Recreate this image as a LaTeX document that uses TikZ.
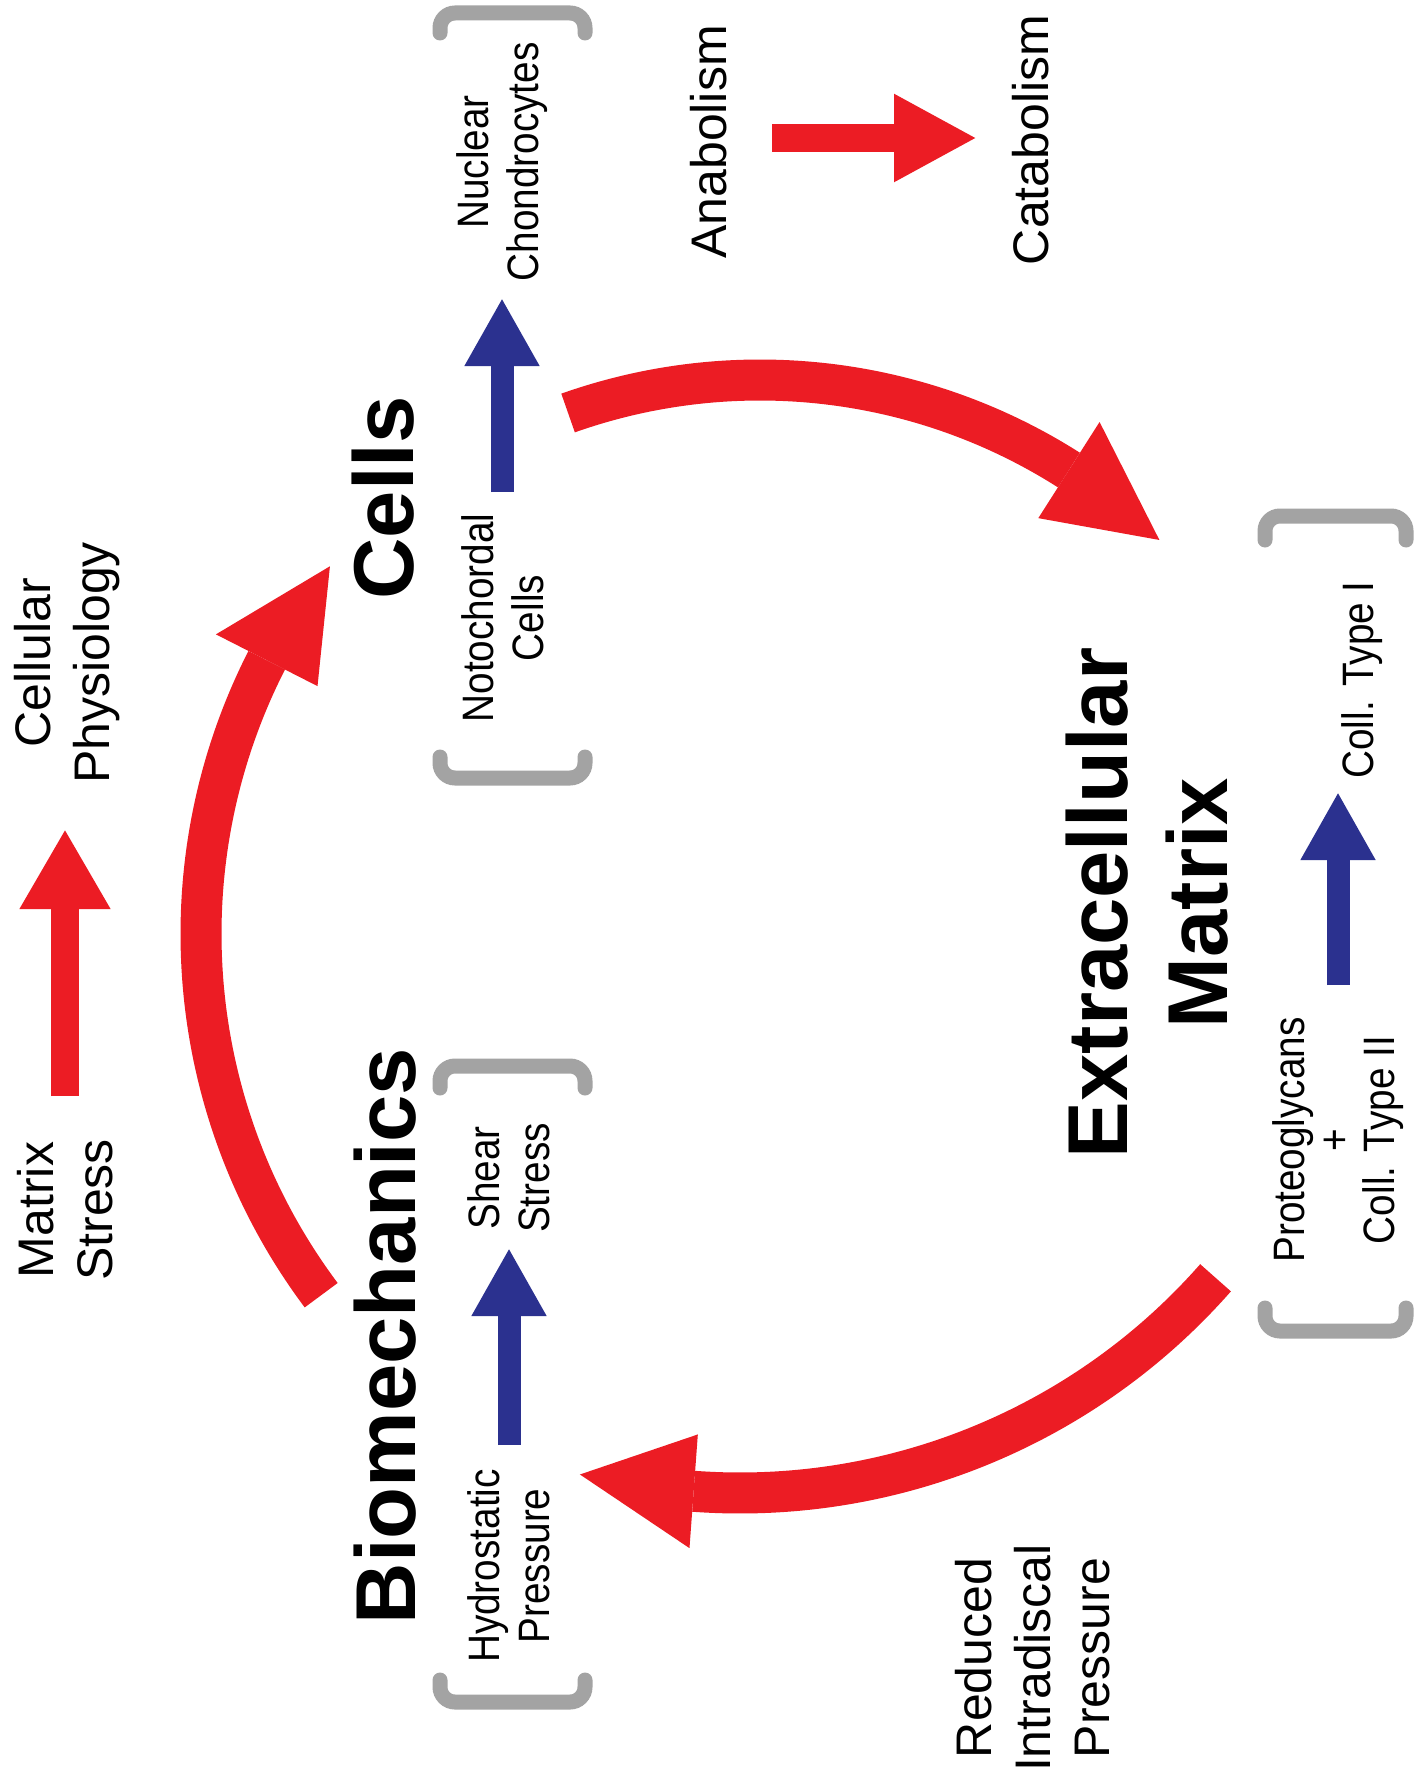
\documentclass[tikz,border=0pt]{standalone}
\usepackage{fontspec}
\setmainfont{Liberation Sans}
\newfontfamily\narrowfont[FakeStretch=0.88]{Liberation Sans}
\usetikzlibrary{calc,arrows.meta}
\definecolor{arred}{RGB}{236,28,36}
\definecolor{arblue}{RGB}{43,49,143}
\definecolor{brgray}{RGB}{163,163,163}
\tikzset{
  lab/.style={rotate=90, align=center, inner sep=0pt, font=\fontsize{50}{59}\selectfont},
  headlab/.style={rotate=90, align=center, inner sep=0pt, font=\fontsize{85}{100}\selectfont\bfseries},
  small/.style={rotate=90, align=center, inner sep=0pt, font=\narrowfont\fontsize{44}{50}\selectfont},
  smalltight/.style={rotate=90, align=center, inner sep=0pt, font=\narrowfont\fontsize{44}{45}\selectfont},
  redline/.style={draw=arred, line width=28pt, -{Triangle[length=80pt 0,width=85pt 0]}},
  blueline/.style={draw=arblue, line width=23pt, -{Triangle[length=68pt 0,width=70pt 0]}},
  bigshaft/.style={draw=arred, line width=41pt},
  bracket/.style={draw=brgray, line width=15pt, rounded corners=15pt, line cap=round},
}
\begin{document}
\begin{tikzpicture}[x=1pt,y=1pt]
\useasboundingbox (0,0) rectangle (1415,-1787);
\fill[white] (0,0) rectangle (1415,-1787);

% labels
\node[lab] (ms) at (65,-1210) {Matrix\\Stress};
\node[lab] (cp) at (67,-663) {Cellular\\Physiology};
\node[lab] (ana) at (709,-142) {Anabolism};
\node[lab] (cat) at (1031,-140) {Catabolism};
\node[lab] (rip) at (1033,-1658) {Reduced\\Intradiscal\\Pressure};
\node[headlab] (bio) at (385,-1336) {Biomechanics};
\node[headlab] (cells) at (383,-498) {Cells};
\node[headlab] (ecm) at (1147,-903) {Extracellular\\Matrix};
\node[small] (nuc) at (502,-162) {Nuclear\\Chondrocytes};
\node[small] (noto) at (503,-618) {Notochordal\\Cells};
\node[small] (shear) at (509,-1178) {Shear\\Stress};
\node[small] (hydro) at (509,-1566) {Hydrostatic\\Pressure};
\node[small] (colli) at (1362,-680) {Coll. Type I};
\node[smalltight] (prot) at (1338,-1140) {Proteoglycans\\+\\Coll. Type II};

% brackets
\draw[bracket] (440,-33) -- (440,-13) -- (585,-13) -- (585,-33);
\draw[bracket] (440,-757) -- (440,-778) -- (585,-778) -- (585,-757);
\draw[bracket] (440,-1088) -- (440,-1066) -- (585,-1066) -- (585,-1088);
\draw[bracket] (440,-1680) -- (440,-1702) -- (585,-1702) -- (585,-1680);
\draw[bracket] (1265,-540) -- (1265,-516) -- (1406,-516) -- (1406,-540);
\draw[bracket] (1265,-1308) -- (1265,-1331) -- (1406,-1331) -- (1406,-1308);

% straight arrows
\coordinate (msT) at (65,-1096);
\coordinate (cpH) at (65,-829);
\draw[redline] (msT) -- (cpH);
\coordinate (anaT) at (772,-138);
\coordinate (catH) at (977,-138);
\draw[redline, -{Triangle[length=83pt 0,width=82pt 0]}] (anaT) -- (catH);
\coordinate (notoT) at (502,-492);
\coordinate (nucH) at (502,-298);
\draw[blueline] (notoT) -- (nucH);
\coordinate (hydroT) at (509,-1445);
\coordinate (shearH) at (509,-1248);
\draw[blueline] (hydroT) -- (shearH);
\coordinate (protT) at (1338,-985);
\coordinate (colliH) at (1338,-792);
\draw[blueline] (protT) -- (colliH);

% big curved arrows
\coordinate (cA) at (804,-934);
\draw[bigshaft] ($(cA)+(216.8:603pt)$) arc[start angle=216.8, end angle=153, radius=603pt];
\fill[arred] ($(cA)+(153:660pt)$) -- ($(cA)+(142.2:600pt)$) -- ($(cA)+(153:546pt)$) -- cycle;

\coordinate (cB) at (760,-955);
\draw[bigshaft] ($(cB)+(109.5:575pt)$) arc[start angle=109.5, end angle=57.5, radius=575pt];
\fill[arred] ($(cB)+(57.5:632pt)$) -- ($(cB)+(46.1:576pt)$) -- ($(cB)+(57.5:518pt)$) -- cycle;

\coordinate (cC) at (740,-860);
\draw[bigshaft] ($(cC)+(-41.3:633pt)$) arc[start angle=-41.3, end angle=-94.2, radius=633pt];
\fill[arred] ($(cC)+(-94.2:690pt)$) -- ($(cC)+(-104.6:635pt)$) -- ($(cC)+(-94.2:576pt)$) -- cycle;
\end{tikzpicture}
\end{document}
